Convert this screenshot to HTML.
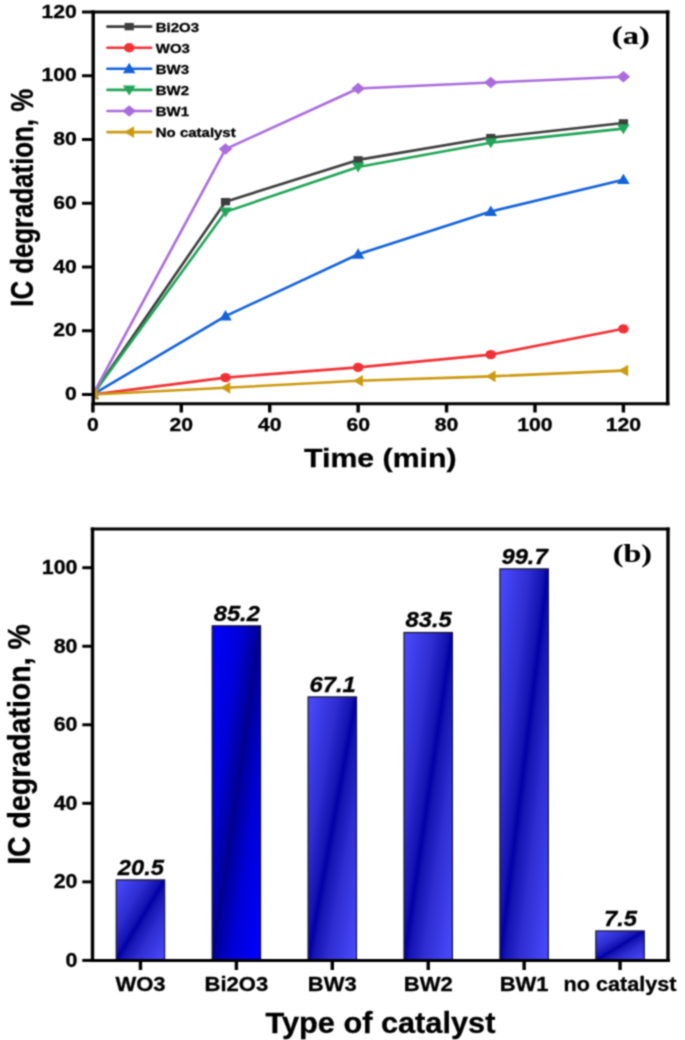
<!DOCTYPE html>
<html><head><meta charset="utf-8"><style>
html,body{margin:0;padding:0;background:#fff;}
svg{display:block;}
</style></head><body>
<svg width="685" height="1040" viewBox="0 0 685 1040">
<defs>
<filter id="bl" x="0" y="0" width="685" height="1040" filterUnits="userSpaceOnUse" color-interpolation-filters="sRGB"><feConvolveMatrix order="3" kernelMatrix="1 2 1 2 6 2 1 2 1" divisor="18" edgeMode="duplicate" preserveAlpha="true"/></filter>
<clipPath id="clipA"><rect x="94" y="13" width="572" height="390"/></clipPath>
<linearGradient id="g1" x1="0" y1="0" x2="1" y2="1">
<stop offset="0" stop-color="#4c4cff"/><stop offset="0.3" stop-color="#2e2ed2"/><stop offset="0.45" stop-color="#1414b2"/><stop offset="0.5" stop-color="#0000a6"/><stop offset="0.55" stop-color="#1414b2"/><stop offset="0.7" stop-color="#2e2ed2"/><stop offset="1" stop-color="#4c4cff"/>
</linearGradient>
<linearGradient id="g2" x1="0" y1="0" x2="1" y2="1">
<stop offset="0" stop-color="#0000ff"/><stop offset="0.3" stop-color="#0000d8"/><stop offset="0.45" stop-color="#0000a6"/><stop offset="0.5" stop-color="#00008e"/><stop offset="0.55" stop-color="#0000a6"/><stop offset="0.7" stop-color="#0000d8"/><stop offset="1" stop-color="#0000ff"/>
</linearGradient>
</defs>
<g filter="url(#bl)">
<rect width="685" height="1040" fill="#fff"/>
<line x1="82" y1="394.50" x2="93.2" y2="394.50" stroke="#000" stroke-width="3.0"/>
<text transform="translate(76.70,400.10) scale(1.190,1)" font-family='"Liberation Sans", sans-serif' font-size="17.8" font-weight="bold" font-style="normal" text-anchor="end" fill="#000" stroke="#000" stroke-width="0.3">0</text>
<line x1="82" y1="330.75" x2="93.2" y2="330.75" stroke="#000" stroke-width="3.0"/>
<text transform="translate(76.70,336.35) scale(1.190,1)" font-family='"Liberation Sans", sans-serif' font-size="17.8" font-weight="bold" font-style="normal" text-anchor="end" fill="#000" stroke="#000" stroke-width="0.3">20</text>
<line x1="82" y1="267.00" x2="93.2" y2="267.00" stroke="#000" stroke-width="3.0"/>
<text transform="translate(76.70,272.60) scale(1.190,1)" font-family='"Liberation Sans", sans-serif' font-size="17.8" font-weight="bold" font-style="normal" text-anchor="end" fill="#000" stroke="#000" stroke-width="0.3">40</text>
<line x1="82" y1="203.25" x2="93.2" y2="203.25" stroke="#000" stroke-width="3.0"/>
<text transform="translate(76.70,208.85) scale(1.190,1)" font-family='"Liberation Sans", sans-serif' font-size="17.8" font-weight="bold" font-style="normal" text-anchor="end" fill="#000" stroke="#000" stroke-width="0.3">60</text>
<line x1="82" y1="139.50" x2="93.2" y2="139.50" stroke="#000" stroke-width="3.0"/>
<text transform="translate(76.70,145.10) scale(1.190,1)" font-family='"Liberation Sans", sans-serif' font-size="17.8" font-weight="bold" font-style="normal" text-anchor="end" fill="#000" stroke="#000" stroke-width="0.3">80</text>
<line x1="82" y1="75.75" x2="93.2" y2="75.75" stroke="#000" stroke-width="3.0"/>
<text transform="translate(76.70,81.35) scale(1.190,1)" font-family='"Liberation Sans", sans-serif' font-size="17.8" font-weight="bold" font-style="normal" text-anchor="end" fill="#000" stroke="#000" stroke-width="0.3">100</text>
<line x1="82" y1="12.00" x2="93.2" y2="12.00" stroke="#000" stroke-width="3.0"/>
<text transform="translate(76.70,17.60) scale(1.190,1)" font-family='"Liberation Sans", sans-serif' font-size="17.8" font-weight="bold" font-style="normal" text-anchor="end" fill="#000" stroke="#000" stroke-width="0.3">120</text>
<line x1="92.90" y1="403.7" x2="92.90" y2="412.5" stroke="#000" stroke-width="3.4"/>
<text transform="translate(92.90,431.00) scale(1.190,1)" font-family='"Liberation Sans", sans-serif' font-size="17.8" font-weight="bold" font-style="normal" text-anchor="middle" fill="#000" stroke="#000" stroke-width="0.3">0</text>
<line x1="181.32" y1="403.7" x2="181.32" y2="412.5" stroke="#000" stroke-width="3.4"/>
<text transform="translate(181.32,431.00) scale(1.190,1)" font-family='"Liberation Sans", sans-serif' font-size="17.8" font-weight="bold" font-style="normal" text-anchor="middle" fill="#000" stroke="#000" stroke-width="0.3">20</text>
<line x1="269.73" y1="403.7" x2="269.73" y2="412.5" stroke="#000" stroke-width="3.4"/>
<text transform="translate(269.73,431.00) scale(1.190,1)" font-family='"Liberation Sans", sans-serif' font-size="17.8" font-weight="bold" font-style="normal" text-anchor="middle" fill="#000" stroke="#000" stroke-width="0.3">40</text>
<line x1="358.15" y1="403.7" x2="358.15" y2="412.5" stroke="#000" stroke-width="3.4"/>
<text transform="translate(358.15,431.00) scale(1.190,1)" font-family='"Liberation Sans", sans-serif' font-size="17.8" font-weight="bold" font-style="normal" text-anchor="middle" fill="#000" stroke="#000" stroke-width="0.3">60</text>
<line x1="446.56" y1="403.7" x2="446.56" y2="412.5" stroke="#000" stroke-width="3.4"/>
<text transform="translate(446.56,431.00) scale(1.190,1)" font-family='"Liberation Sans", sans-serif' font-size="17.8" font-weight="bold" font-style="normal" text-anchor="middle" fill="#000" stroke="#000" stroke-width="0.3">80</text>
<line x1="534.98" y1="403.7" x2="534.98" y2="412.5" stroke="#000" stroke-width="3.4"/>
<text transform="translate(534.98,431.00) scale(1.190,1)" font-family='"Liberation Sans", sans-serif' font-size="17.8" font-weight="bold" font-style="normal" text-anchor="middle" fill="#000" stroke="#000" stroke-width="0.3">100</text>
<line x1="623.40" y1="403.7" x2="623.40" y2="412.5" stroke="#000" stroke-width="3.4"/>
<text transform="translate(623.40,431.00) scale(1.190,1)" font-family='"Liberation Sans", sans-serif' font-size="17.8" font-weight="bold" font-style="normal" text-anchor="middle" fill="#000" stroke="#000" stroke-width="0.3">120</text>
<text transform="translate(380.30,466.80) scale(1.155,1)" font-family='"Liberation Sans", sans-serif' font-size="26.2" font-weight="bold" font-style="normal" text-anchor="middle" fill="#000" stroke="#000" stroke-width="0.3">Time (min)</text>
<text transform="translate(32.60,197.80) scale(1.220,1) rotate(-90)" font-family='"Liberation Sans", sans-serif' font-size="25.8" font-weight="bold" font-style="normal" text-anchor="middle" fill="#000" stroke="#000" stroke-width="0.3">IC degradation, %</text>
<g clip-path="url(#clipA)">
<polyline points="92.90,394.50 225.52,201.66 358.15,159.90 490.77,137.59 623.40,122.93" fill="none" stroke="#3e3e3e" stroke-width="2.6" stroke-linejoin="round"/>
<polyline points="92.90,394.50 225.52,377.61 358.15,367.41 490.77,354.66 623.40,328.84" fill="none" stroke="#f03236" stroke-width="2.6" stroke-linejoin="round"/>
<polyline points="92.90,394.50 225.52,316.09 358.15,254.25 490.77,211.54 623.40,179.66" fill="none" stroke="#1262da" stroke-width="2.6" stroke-linejoin="round"/>
<polyline points="92.90,394.50 225.52,211.86 358.15,166.91 490.77,142.69 623.40,128.66" fill="none" stroke="#22a558" stroke-width="2.6" stroke-linejoin="round"/>
<polyline points="92.90,394.50 225.52,149.06 358.15,88.50 490.77,82.44 623.40,76.71" fill="none" stroke="#aa6cdc" stroke-width="2.6" stroke-linejoin="round"/>
<polyline points="92.90,394.50 225.52,387.81 358.15,380.79 490.77,376.33 623.40,370.59" fill="none" stroke="#cc9a10" stroke-width="2.6" stroke-linejoin="round"/>
<rect x="88.30" y="390.80" width="9.2" height="7.4" fill="#3e3e3e"/>
<rect x="220.92" y="197.96" width="9.2" height="7.4" fill="#3e3e3e"/>
<rect x="353.55" y="156.20" width="9.2" height="7.4" fill="#3e3e3e"/>
<rect x="486.17" y="133.89" width="9.2" height="7.4" fill="#3e3e3e"/>
<rect x="618.80" y="119.23" width="9.2" height="7.4" fill="#3e3e3e"/>
<ellipse cx="92.90" cy="394.50" rx="5.3" ry="4.7" fill="#f03236"/>
<ellipse cx="225.52" cy="377.61" rx="5.3" ry="4.7" fill="#f03236"/>
<ellipse cx="358.15" cy="367.41" rx="5.3" ry="4.7" fill="#f03236"/>
<ellipse cx="490.77" cy="354.66" rx="5.3" ry="4.7" fill="#f03236"/>
<ellipse cx="623.40" cy="328.84" rx="5.3" ry="4.7" fill="#f03236"/>
<polygon points="92.90,388.50 99.20,398.90 86.60,398.90" fill="#1262da"/>
<polygon points="225.52,310.09 231.82,320.49 219.22,320.49" fill="#1262da"/>
<polygon points="358.15,248.25 364.45,258.65 351.85,258.65" fill="#1262da"/>
<polygon points="490.77,205.54 497.07,215.94 484.47,215.94" fill="#1262da"/>
<polygon points="623.40,173.66 629.70,184.06 617.10,184.06" fill="#1262da"/>
<polygon points="86.60,390.10 99.20,390.10 92.90,400.10" fill="#22a558"/>
<polygon points="219.22,207.46 231.82,207.46 225.52,217.46" fill="#22a558"/>
<polygon points="351.85,162.51 364.45,162.51 358.15,172.51" fill="#22a558"/>
<polygon points="484.47,138.29 497.07,138.29 490.77,148.29" fill="#22a558"/>
<polygon points="617.10,124.26 629.70,124.26 623.40,134.26" fill="#22a558"/>
<polygon points="92.90,388.70 99.70,394.50 92.90,400.30 86.10,394.50" fill="#aa6cdc"/>
<polygon points="225.52,143.26 232.32,149.06 225.52,154.86 218.72,149.06" fill="#aa6cdc"/>
<polygon points="358.15,82.70 364.95,88.50 358.15,94.30 351.35,88.50" fill="#aa6cdc"/>
<polygon points="490.77,76.64 497.57,82.44 490.77,88.24 483.97,82.44" fill="#aa6cdc"/>
<polygon points="623.40,70.91 630.20,76.71 623.40,82.51 616.60,76.71" fill="#aa6cdc"/>
<polygon points="87.90,394.50 97.70,388.60 97.70,400.40" fill="#cc9a10"/>
<polygon points="220.52,387.81 230.32,381.91 230.32,393.71" fill="#cc9a10"/>
<polygon points="353.15,380.79 362.95,374.89 362.95,386.69" fill="#cc9a10"/>
<polygon points="485.77,376.33 495.57,370.43 495.57,382.23" fill="#cc9a10"/>
<polygon points="618.40,370.59 628.20,364.69 628.20,376.49" fill="#cc9a10"/>
</g>
<path d="M91.50,12.00 H669.40 M91.50,403.70 H669.40" stroke="#000" stroke-width="3.0" fill="none"/>
<path d="M93.20,10.50 V405.20 M667.70,10.50 V405.20" stroke="#000" stroke-width="3.4" fill="none"/>
<line x1="107.4" y1="26.60" x2="151.2" y2="26.60" stroke="#3e3e3e" stroke-width="2.6" stroke-linecap="round"/>
<rect x="124.60" y="22.90" width="9.2" height="7.4" fill="#3e3e3e"/>
<text transform="translate(155.80,31.70) scale(1.190,1)" font-family='"Liberation Sans", sans-serif' font-size="12.6" font-weight="bold" font-style="normal" text-anchor="start" fill="#000" stroke="#000" stroke-width="0.3">Bi2O3</text>
<line x1="107.4" y1="47.70" x2="151.2" y2="47.70" stroke="#f03236" stroke-width="2.6" stroke-linecap="round"/>
<ellipse cx="129.20" cy="47.70" rx="5.3" ry="4.7" fill="#f03236"/>
<text transform="translate(155.80,52.80) scale(1.190,1)" font-family='"Liberation Sans", sans-serif' font-size="12.6" font-weight="bold" font-style="normal" text-anchor="start" fill="#000" stroke="#000" stroke-width="0.3">WO3</text>
<line x1="107.4" y1="68.80" x2="151.2" y2="68.80" stroke="#1262da" stroke-width="2.6" stroke-linecap="round"/>
<polygon points="129.20,62.80 135.50,73.20 122.90,73.20" fill="#1262da"/>
<text transform="translate(155.80,73.90) scale(1.190,1)" font-family='"Liberation Sans", sans-serif' font-size="12.6" font-weight="bold" font-style="normal" text-anchor="start" fill="#000" stroke="#000" stroke-width="0.3">BW3</text>
<line x1="107.4" y1="89.90" x2="151.2" y2="89.90" stroke="#22a558" stroke-width="2.6" stroke-linecap="round"/>
<polygon points="122.90,85.50 135.50,85.50 129.20,95.50" fill="#22a558"/>
<text transform="translate(155.80,95.00) scale(1.190,1)" font-family='"Liberation Sans", sans-serif' font-size="12.6" font-weight="bold" font-style="normal" text-anchor="start" fill="#000" stroke="#000" stroke-width="0.3">BW2</text>
<line x1="107.4" y1="111.00" x2="151.2" y2="111.00" stroke="#aa6cdc" stroke-width="2.6" stroke-linecap="round"/>
<polygon points="129.20,105.20 136.00,111.00 129.20,116.80 122.40,111.00" fill="#aa6cdc"/>
<text transform="translate(155.80,116.10) scale(1.190,1)" font-family='"Liberation Sans", sans-serif' font-size="12.6" font-weight="bold" font-style="normal" text-anchor="start" fill="#000" stroke="#000" stroke-width="0.3">BW1</text>
<line x1="107.4" y1="132.10" x2="151.2" y2="132.10" stroke="#cc9a10" stroke-width="2.6" stroke-linecap="round"/>
<polygon points="124.20,132.10 134.00,126.20 134.00,138.00" fill="#cc9a10"/>
<text transform="translate(155.80,137.20) scale(1.190,1)" font-family='"Liberation Sans", sans-serif' font-size="12.6" font-weight="bold" font-style="normal" text-anchor="start" fill="#000" stroke="#000" stroke-width="0.3">No catalyst</text>
<text transform="translate(630.80,43.80) scale(1.290,1)" font-family='"Liberation Serif", serif' font-size="25.2" font-weight="bold" font-style="normal" text-anchor="middle" fill="#000" stroke="#000" stroke-width="0.1">(a)</text>
<path d="M90.80,529.00 H669.70 M90.80,960.40 H669.70" stroke="#000" stroke-width="3.0" fill="none"/>
<path d="M92.50,527.50 V961.90 M668.00,527.50 V961.90" stroke="#000" stroke-width="3.4" fill="none"/>
<line x1="82.3" y1="960.40" x2="92.5" y2="960.40" stroke="#000" stroke-width="3.0"/>
<text transform="translate(77.50,966.80) scale(1.100,1)" font-family='"Liberation Sans", sans-serif' font-size="19.5" font-weight="bold" font-style="normal" text-anchor="end" fill="#000" stroke="#000" stroke-width="0.3">0</text>
<line x1="82.3" y1="881.86" x2="92.5" y2="881.86" stroke="#000" stroke-width="3.0"/>
<text transform="translate(77.50,888.26) scale(1.100,1)" font-family='"Liberation Sans", sans-serif' font-size="19.5" font-weight="bold" font-style="normal" text-anchor="end" fill="#000" stroke="#000" stroke-width="0.3">20</text>
<line x1="82.3" y1="803.32" x2="92.5" y2="803.32" stroke="#000" stroke-width="3.0"/>
<text transform="translate(77.50,809.72) scale(1.100,1)" font-family='"Liberation Sans", sans-serif' font-size="19.5" font-weight="bold" font-style="normal" text-anchor="end" fill="#000" stroke="#000" stroke-width="0.3">40</text>
<line x1="82.3" y1="724.78" x2="92.5" y2="724.78" stroke="#000" stroke-width="3.0"/>
<text transform="translate(77.50,731.18) scale(1.100,1)" font-family='"Liberation Sans", sans-serif' font-size="19.5" font-weight="bold" font-style="normal" text-anchor="end" fill="#000" stroke="#000" stroke-width="0.3">60</text>
<line x1="82.3" y1="646.24" x2="92.5" y2="646.24" stroke="#000" stroke-width="3.0"/>
<text transform="translate(77.50,652.64) scale(1.100,1)" font-family='"Liberation Sans", sans-serif' font-size="19.5" font-weight="bold" font-style="normal" text-anchor="end" fill="#000" stroke="#000" stroke-width="0.3">80</text>
<line x1="82.3" y1="567.70" x2="92.5" y2="567.70" stroke="#000" stroke-width="3.0"/>
<text transform="translate(77.50,574.10) scale(1.100,1)" font-family='"Liberation Sans", sans-serif' font-size="19.5" font-weight="bold" font-style="normal" text-anchor="end" fill="#000" stroke="#000" stroke-width="0.3">100</text>
<rect x="116.26" y="879.90" width="48.4" height="80.50" fill="url(#g1)" stroke="#141428" stroke-width="1.2"/>
<line x1="140.46" y1="960.4" x2="140.46" y2="970" stroke="#000" stroke-width="3.4"/>
<text transform="translate(140.46,990.80) scale(1.080,1)" font-family='"Liberation Sans", sans-serif' font-size="20.4" font-weight="bold" font-style="normal" text-anchor="middle" fill="#000" stroke="#000" stroke-width="0.3">WO3</text>
<text transform="translate(140.86,874.80) scale(1.110,1)" font-family='"Liberation Sans", sans-serif' font-size="21.4" font-weight="bold" font-style="italic" text-anchor="middle" fill="#000" stroke="#000" stroke-width="0.3">20.5</text>
<rect x="212.18" y="625.82" width="48.4" height="334.58" fill="url(#g2)" stroke="#141428" stroke-width="1.2"/>
<line x1="236.38" y1="960.4" x2="236.38" y2="970" stroke="#000" stroke-width="3.4"/>
<text transform="translate(236.38,990.80) scale(1.080,1)" font-family='"Liberation Sans", sans-serif' font-size="20.4" font-weight="bold" font-style="normal" text-anchor="middle" fill="#000" stroke="#000" stroke-width="0.3">Bi2O3</text>
<text transform="translate(236.78,620.72) scale(1.110,1)" font-family='"Liberation Sans", sans-serif' font-size="21.4" font-weight="bold" font-style="italic" text-anchor="middle" fill="#000" stroke="#000" stroke-width="0.3">85.2</text>
<rect x="308.10" y="696.90" width="48.4" height="263.50" fill="url(#g1)" stroke="#141428" stroke-width="1.2"/>
<line x1="332.30" y1="960.4" x2="332.30" y2="970" stroke="#000" stroke-width="3.4"/>
<text transform="translate(332.30,990.80) scale(1.080,1)" font-family='"Liberation Sans", sans-serif' font-size="20.4" font-weight="bold" font-style="normal" text-anchor="middle" fill="#000" stroke="#000" stroke-width="0.3">BW3</text>
<text transform="translate(332.70,691.80) scale(1.110,1)" font-family='"Liberation Sans", sans-serif' font-size="21.4" font-weight="bold" font-style="italic" text-anchor="middle" fill="#000" stroke="#000" stroke-width="0.3">67.1</text>
<rect x="404.02" y="632.50" width="48.4" height="327.90" fill="url(#g1)" stroke="#141428" stroke-width="1.2"/>
<line x1="428.22" y1="960.4" x2="428.22" y2="970" stroke="#000" stroke-width="3.4"/>
<text transform="translate(428.22,990.80) scale(1.080,1)" font-family='"Liberation Sans", sans-serif' font-size="20.4" font-weight="bold" font-style="normal" text-anchor="middle" fill="#000" stroke="#000" stroke-width="0.3">BW2</text>
<text transform="translate(428.62,627.40) scale(1.110,1)" font-family='"Liberation Sans", sans-serif' font-size="21.4" font-weight="bold" font-style="italic" text-anchor="middle" fill="#000" stroke="#000" stroke-width="0.3">83.5</text>
<rect x="499.94" y="568.88" width="48.4" height="391.52" fill="url(#g1)" stroke="#141428" stroke-width="1.2"/>
<line x1="524.14" y1="960.4" x2="524.14" y2="970" stroke="#000" stroke-width="3.4"/>
<text transform="translate(524.14,990.80) scale(1.080,1)" font-family='"Liberation Sans", sans-serif' font-size="20.4" font-weight="bold" font-style="normal" text-anchor="middle" fill="#000" stroke="#000" stroke-width="0.3">BW1</text>
<text transform="translate(524.54,563.78) scale(1.110,1)" font-family='"Liberation Sans", sans-serif' font-size="21.4" font-weight="bold" font-style="italic" text-anchor="middle" fill="#000" stroke="#000" stroke-width="0.3">99.7</text>
<rect x="595.86" y="930.95" width="48.4" height="29.45" fill="url(#g1)" stroke="#141428" stroke-width="1.2"/>
<line x1="620.06" y1="960.4" x2="620.06" y2="970" stroke="#000" stroke-width="3.4"/>
<text transform="translate(620.06,990.80) scale(1.060,1)" font-family='"Liberation Sans", sans-serif' font-size="20.4" font-weight="bold" font-style="normal" text-anchor="middle" fill="#000" stroke="#000" stroke-width="0.3">no catalyst</text>
<text transform="translate(620.46,925.85) scale(1.110,1)" font-family='"Liberation Sans", sans-serif' font-size="21.4" font-weight="bold" font-style="italic" text-anchor="middle" fill="#000" stroke="#000" stroke-width="0.3">7.5</text>
<line x1="90.8" y1="960.4" x2="669.7" y2="960.4" stroke="#000" stroke-width="3.0"/>
<text transform="translate(380.40,1032.50) scale(1.060,1)" font-family='"Liberation Sans", sans-serif' font-size="29.0" font-weight="bold" font-style="normal" text-anchor="middle" fill="#000" stroke="#000" stroke-width="0.3">Type of catalyst</text>
<text transform="translate(29.90,744.50) scale(1.090,1) rotate(-90)" font-family='"Liberation Sans", sans-serif' font-size="28.5" font-weight="bold" font-style="normal" text-anchor="middle" fill="#000" stroke="#000" stroke-width="0.3">IC degradation, %</text>
<text transform="translate(632.40,562.00) scale(1.300,1)" font-family='"Liberation Serif", serif' font-size="24.7" font-weight="bold" font-style="normal" text-anchor="middle" fill="#000" stroke="#000" stroke-width="0.1">(b)</text>
</g>
</svg>
</body></html>
